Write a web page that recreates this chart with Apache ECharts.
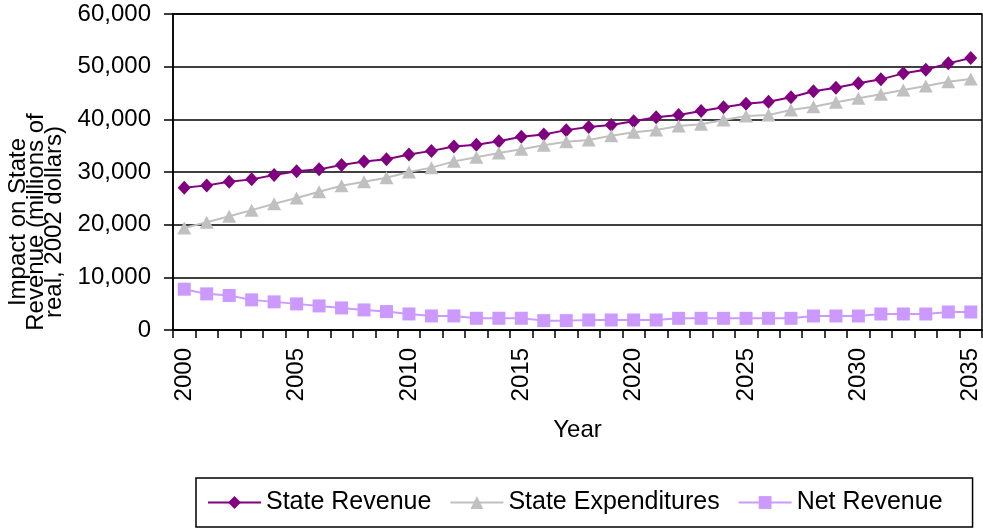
<!DOCTYPE html>
<html>
<head>
<meta charset="utf-8">
<script src="https://cdn.jsdelivr.net/npm/echarts@6/dist/echarts.min.js"></script>
<style>
html,body{margin:0;padding:0;background:#fff;}
#chart{width:983px;height:529px;}
</style>
</head>
<body>
<div id="chart"></div>
<script>
const years = ['2000','2001','2002','2003','2004','2005','2006','2007','2008','2009',
  '2010','2011','2012','2013','2014','2015','2016','2017','2018','2019',
  '2020','2021','2022','2023','2024','2025','2026','2027','2028','2029',
  '2030','2031','2032','2033','2034','2035'];
const stateRevenue = [27000, 27460, 28160, 28600, 29430, 30130, 30500, 31340, 31980, 32420,
  33310, 34010, 34840, 35160, 35850, 36680, 37130, 37950, 38540, 38920,
  39620, 40380, 40820, 41580, 42280, 42970, 43350, 44180, 45320, 46010,
  46840, 47590, 48730, 49430, 50630, 51650];
const stateExpenditures = [19380, 20460, 21610, 22760, 23960, 25050, 26240, 27390, 28150, 28920,
  30000, 30830, 32020, 32820, 33590, 34330, 35090, 35730, 36080, 36900,
  37530, 37970, 38730, 39050, 39870, 40630, 40820, 41770, 42400, 43230,
  43990, 44750, 45570, 46330, 47150, 47660];
const netRevenue = [7750, 6860, 6550, 5720, 5340, 4960, 4570, 4190, 3810, 3500,
  3050, 2670, 2670, 2230, 2230, 2230, 1780, 1780, 1900, 1900,
  1900, 1900, 2220, 2220, 2220, 2220, 2220, 2220, 2660, 2660,
  2660, 3040, 3040, 3040, 3420, 3420];
const seriesNames = ['State Revenue', 'State Expenditures', 'Net Revenue'];
const yTitle = 'Impact on State\nRevenue (millions of\nreal, 2002 dollars)';
const xTitle = 'Year';

const FONT = "'Liberation Sans', Arial, sans-serif";
const chart = echarts.init(document.getElementById('chart'), null, {renderer: 'canvas'});
chart.setOption({
  animation: false,
  backgroundColor: '#fff',
  textStyle: {fontFamily: FONT},
  grid: {left: 173, right: 1, top: 14, bottom: 199, show: true, borderColor: '#000', borderWidth: 1.5},
  graphic: [{
    type: 'text',
    x: 36, y: 222,
    rotation: Math.PI / 2,
    style: {
      text: yTitle,
      font: "24px 'Liberation Sans', Arial, sans-serif",
      fill: '#000',
      align: 'center',
      verticalAlign: 'middle',
      lineHeight: 18
    }
  }],
  legend: {
    left: 196, top: 478,
    orient: 'horizontal',
    borderColor: '#000', borderWidth: 1.5,
    padding: [12, 30, 12, 11],
    itemWidth: 53, itemHeight: 16, itemGap: 18,
    textStyle: {fontFamily: FONT, fontSize: 25, color: '#000'},
    data: seriesNames
  },
  xAxis: {
    type: 'category',
    data: years,
    boundaryGap: true,
    name: xTitle,
    nameLocation: 'middle',
    nameGap: 88,
    nameTextStyle: {fontFamily: FONT, fontSize: 24, color: '#000'},
    axisLine: {lineStyle: {color: '#000', width: 1.5}},
    axisTick: {show: true, interval: 0, length: 8, lineStyle: {color: '#000', width: 1.5}},
    axisLabel: {interval: 4, rotate: 90, margin: 18, fontFamily: FONT, fontSize: 24, color: '#000'},
    splitLine: {show: false}
  },
  yAxis: {
    type: 'value',
    min: 0, max: 60000, interval: 10000,
    axisLine: {show: true, lineStyle: {color: '#000', width: 1.5}},
    axisTick: {show: true, length: 9, lineStyle: {color: '#000', width: 1.5}},
    axisLabel: {margin: 22, fontFamily: FONT, fontSize: 24, color: '#000',
      formatter: v => v.toLocaleString('en-US')},
    splitLine: {show: true, lineStyle: {color: '#000', width: 1.5}}
  },
  series: [
    {name: seriesNames[0], type: 'line', data: stateRevenue, symbol: 'diamond', symbolSize: [13, 14],
      showAllSymbol: true,
      itemStyle: {color: '#800080'}, lineStyle: {color: '#800080', width: 2}},
    {name: seriesNames[1], type: 'line', data: stateExpenditures, symbol: 'triangle', symbolSize: [14, 13],
      showAllSymbol: true,
      itemStyle: {color: '#C0C0C0'}, lineStyle: {color: '#C0C0C0', width: 2}},
    {name: seriesNames[2], type: 'line', data: netRevenue, symbol: 'rect', symbolSize: 13,
      showAllSymbol: true,
      itemStyle: {color: '#CC99FF'}, lineStyle: {color: '#CC99FF', width: 2}}
  ]
});
</script>
</body>
</html>
